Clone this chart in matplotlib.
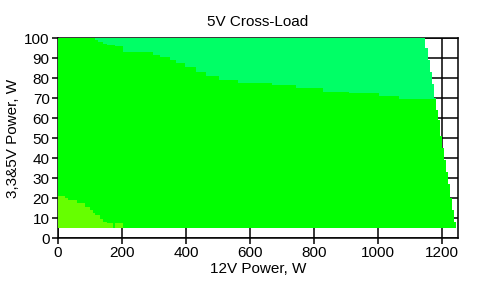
import matplotlib
matplotlib.use("Agg")
import matplotlib.pyplot as plt
import numpy as np

plt.rcParams['font.family'] = ['Liberation Sans', 'DejaVu Sans']

# Right boundary of the operating region (step: from y level upward, max 12V load)
right_y = [5, 8, 14, 20, 27, 33, 39, 45, 51, 59, 64, 70, 77, 83, 89, 95, 100]
right_x = [1243, 1237, 1230, 1224, 1218, 1212, 1205, 1199, 1193, 1187, 1181,
           1174, 1168, 1162, 1156, 1148, 1148]

# Upper edge of the bright green zone (mint zone above it)
green_x = [0, 115, 126, 141, 152, 178, 204, 297, 318, 349, 370, 396, 432, 463,
           504, 561, 670, 743, 827, 910, 1003, 1065, 1250]
green_y = [100, 99, 98, 97, 96.5, 96, 93, 91.5, 90.7, 89, 87.3, 85.3, 83.2, 81.2,
           79, 77.3, 76.5, 74.8, 73.2, 72.3, 71, 69.3, 69.3]

# Upper edge of the yellow-green zone (bottom left)
yg_x = [0, 22, 32, 58, 84, 100, 110, 115, 131, 141, 152, 172, 178, 204, 1250]
yg_y = [21, 20, 19, 17.3, 15.7, 14, 12.3, 11.5, 9.3, 8, 7.3, 5, 7.3, 5, 5]

y_min = 5
x_ticks = [0, 200, 400, 600, 800, 1000, 1200]
y_ticks = list(range(0, 101, 10))

c_mint = '#00FF66'
c_green = '#00FF00'
c_yg = '#66FF00'

fig = plt.figure(figsize=(4.87, 2.86), dpi=100)
ax = fig.add_axes([58/487, 48/286, 400/487, 200/286])

region = ax.fill_betweenx(right_y, 0, right_x, step='post', color=c_mint,
                          lw=0, zorder=2)
clip_path = region.get_paths()[0]

g = ax.fill_between(green_x, y_min, green_y, step='post', color=c_green,
                    lw=0, zorder=3)
g.set_clip_path(clip_path, ax.transData)

yg = ax.fill_between(yg_x, y_min, yg_y, step='post', color=c_yg, lw=0, zorder=4)
yg.set_clip_path(clip_path, ax.transData)

ax.set_xlim(0, 1250)
ax.set_ylim(0, 100)
ax.set_xticks(x_ticks)
ax.set_yticks(y_ticks)
ax.set_axisbelow(True)
ax.grid(True, color='black', lw=1.1)
for s in ax.spines.values():
    s.set_color('black')
    s.set_linewidth(1.1)
    s.set_zorder(1)
ax.tick_params(direction='out', length=4, width=1.1, colors='black',
               labelsize=11, pad=2)

ax.set_title('5V Cross-Load', fontsize=11, pad=9)
ax.set_xlabel('12V Power, W', fontsize=11, labelpad=1)
ax.set_ylabel('3,3&5V Power, W', fontsize=11, labelpad=3)

fig.savefig('out.png', dpi=100)
